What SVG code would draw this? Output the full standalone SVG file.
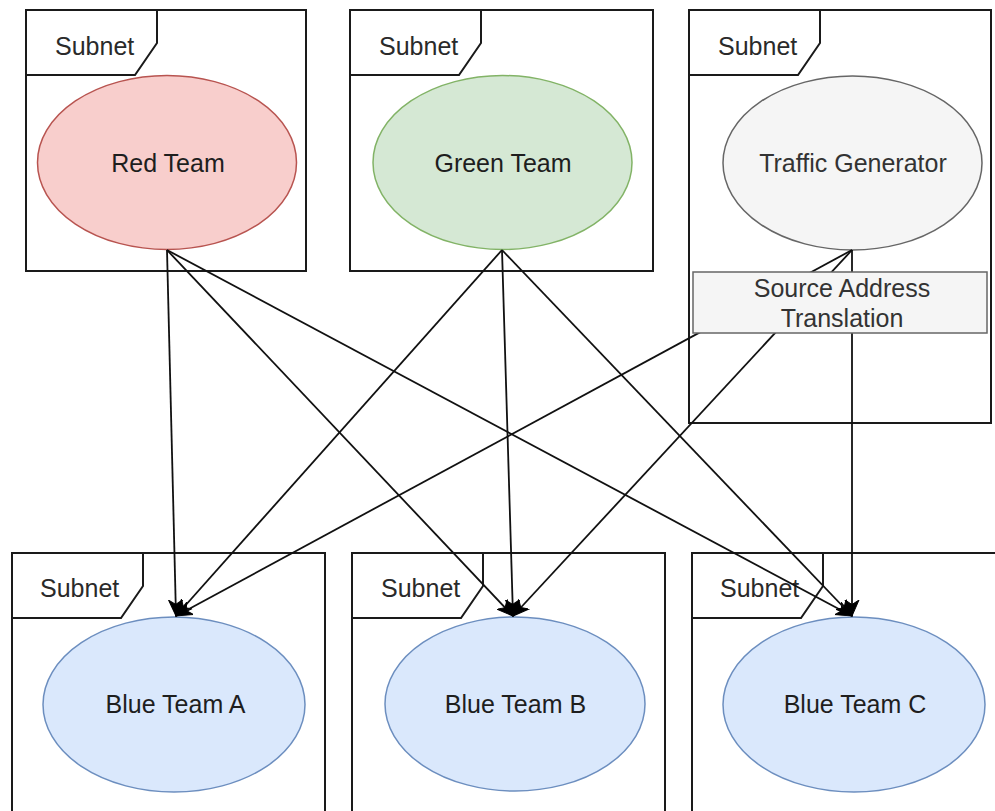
<svg xmlns="http://www.w3.org/2000/svg" width="995" height="811" viewBox="0 0 995 811">
<style>
.box{fill:#ffffff;stroke:#1a1a1a;stroke-width:2}
.tab{fill:none;stroke:#1a1a1a;stroke-width:2;stroke-linejoin:miter}
.lbl{font-family:"Liberation Sans",Arial,sans-serif;font-size:25px;fill:#1e1e1e}
.sub{font-family:"Liberation Sans",Arial,sans-serif;font-size:25px;fill:#2a2a2a}
.red{fill:#f8cecc;stroke:#b85450;stroke-width:1.5}
.green{fill:#d5e8d4;stroke:#82b366;stroke-width:1.5}
.gray{fill:#f5f5f5;stroke:#666666;stroke-width:1.5}
.blue{fill:#dae8fc;stroke:#6c8ebf;stroke-width:1.5}
.edge{fill:none;stroke:#111;stroke-width:1.8;marker-end:url(#arr)}
</style>
<defs>
<marker id="arr" markerUnits="userSpaceOnUse" markerWidth="18" markerHeight="18" viewBox="0 0 18 18" refX="16" refY="9" orient="auto">
<path d="M0,2 L16,9 L0,16 L4.5,9 Z" fill="#000" stroke="#000" stroke-width="1"/>
</marker>
</defs>
<rect width="995" height="811" fill="#ffffff"/>

<g id="subnet-red">
<rect class="box" x="26" y="10" width="280" height="261"/>
<path class="tab" d="M26,75 L135,75 L157,43 L157,10"/>
<text class="sub" x="55" y="54.5">Subnet</text>
</g>
<g id="red-team">
<ellipse class="red" cx="167" cy="162.5" rx="129.5" ry="87"/>
<text class="lbl" x="168" y="172" text-anchor="middle">Red Team</text>
</g>

<g id="subnet-green">
<rect class="box" x="350" y="10" width="303" height="261"/>
<path class="tab" d="M350,75 L459,75 L481,43 L481,10"/>
<text class="sub" x="379" y="54.5">Subnet</text>
</g>
<g id="green-team">
<ellipse class="green" cx="502.5" cy="162.5" rx="129.5" ry="87"/>
<text class="lbl" x="503" y="172" text-anchor="middle">Green Team</text>
</g>

<g id="subnet-traffic">
<rect class="box" x="689" y="10" width="302" height="413"/>
<path class="tab" d="M689,75 L798,75 L820,43 L820,10"/>
<text class="sub" x="718" y="54.5">Subnet</text>
</g>
<g id="traffic-generator">
<ellipse class="gray" cx="852.5" cy="163" rx="129.5" ry="87"/>
<text class="lbl" x="853" y="172" text-anchor="middle" style="fill:#333">Traffic Generator</text>
</g>

<g id="subnet-a">
<rect class="box" x="12" y="553" width="313" height="270"/>
<path class="tab" d="M12,618 L121,618 L143,586 L143,553"/>
<text class="sub" x="40" y="597">Subnet</text>
</g>
<g id="blue-team-a">
<ellipse class="blue" cx="174" cy="704.5" rx="131" ry="87.5"/>
<text class="lbl" x="175.5" y="713" text-anchor="middle">Blue Team A</text>
</g>

<g id="subnet-b">
<rect class="box" x="352" y="553" width="313" height="270"/>
<path class="tab" d="M352,618 L461,618 L483,586 L483,553"/>
<text class="sub" x="381" y="597">Subnet</text>
</g>
<g id="blue-team-b">
<ellipse class="blue" cx="515" cy="704" rx="130" ry="87"/>
<text class="lbl" x="515.5" y="713" text-anchor="middle">Blue Team B</text>
</g>

<g id="subnet-c">
<rect class="box" x="692" y="553" width="320" height="270"/>
<path class="tab" d="M692,618 L801,618 L823,586 L823,553"/>
<text class="sub" x="720" y="597">Subnet</text>
</g>
<g id="blue-team-c">
<ellipse class="blue" cx="854" cy="704.5" rx="131" ry="87.5"/>
<text class="lbl" x="855" y="713" text-anchor="middle">Blue Team C</text>
</g>

<g id="connectors">
<line class="edge" x1="167" y1="250" x2="176" y2="616"/>
<line class="edge" x1="167" y1="250" x2="513" y2="616"/>
<line class="edge" x1="167" y1="250" x2="852" y2="616"/>
<line class="edge" x1="502" y1="250" x2="176" y2="616"/>
<line class="edge" x1="502" y1="250" x2="513" y2="616"/>
<line class="edge" x1="502" y1="250" x2="852" y2="616"/>
<line class="edge" x1="852" y1="250" x2="176" y2="616"/>
<line class="edge" x1="852" y1="250" x2="513" y2="616"/>
<line class="edge" x1="852" y1="250" x2="852" y2="616"/>
</g>

<g id="source-address-translation">
<rect class="gray" x="693" y="272" width="294" height="61"/>
<text class="lbl" x="842" y="297" text-anchor="middle" style="fill:#333">Source Address</text>
<text class="lbl" x="842" y="327" text-anchor="middle" style="fill:#333">Translation</text>
</g>
</svg>
